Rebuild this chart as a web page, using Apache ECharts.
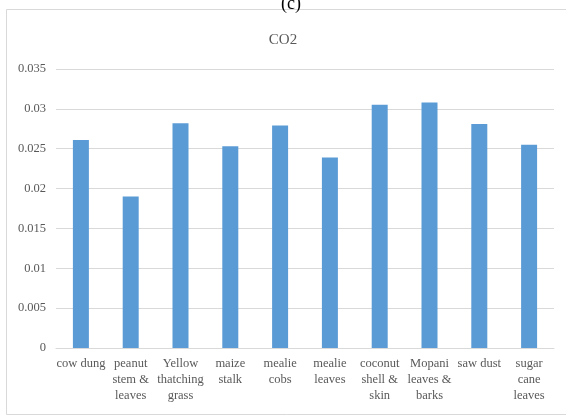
<!DOCTYPE html>
<html>
<head>
<meta charset="utf-8">
<script src="https://cdn.jsdelivr.net/npm/echarts@6/dist/echarts.min.js"></script>
<style>html,body{margin:0;padding:0;background:#fff;}#c{width:566px;height:420px;}</style>
</head>
<body>
<div id="c"></div>
<script>
const categories = ["cow dung", "peanut\nstem &\nleaves", "Yellow\nthatching\ngrass", "maize\nstalk", "mealie\ncobs", "mealie\nleaves", "coconut\nshell &\nskin", "Mopani\nleaves &\nbarks", "saw dust", "sugar\ncane\nleaves"];
const co2Values = [0.0261, 0.0190, 0.0282, 0.0253, 0.0279, 0.0239, 0.0305, 0.0308, 0.0281, 0.0255];
const yTicks = [0, 0.005, 0.01, 0.015, 0.02, 0.025, 0.03, 0.035];
const chartTitle = "CO2";
const panelLabel = "(c)";

const chart = echarts.init(document.getElementById('c'), null, {renderer: 'canvas'});
const serif = '"Liberation Serif", "DejaVu Serif", serif';
chart.setOption({
  animation: false,
  backgroundColor: '#ffffff',
  graphic: [{
    type: 'rect', shape: {x: 6.5, y: 9.5, width: 580, height: 405},
    style: {fill: 'none', stroke: '#d9d9d9', lineWidth: 1}, z: -1
  }],
  title: [{
    text: panelLabel, left: 276, top: -10,
    textStyle: {fontFamily: serif, fontSize: 18, fontWeight: 'normal', color: '#000'}
  }, {
    text: chartTitle, left: 'center', top: 28,
    textStyle: {fontFamily: serif, fontSize: 15, fontWeight: 'normal', color: '#595959'}
  }],
  grid: {left: 56, right: 12, top: 69, bottom: 72, containLabel: false},
  xAxis: {
    type: 'category', data: categories,
    axisLine: {lineStyle: {color: '#d9d9d9'}},
    axisTick: {show: false},
    axisLabel: {interval: 0, margin: 8, fontFamily: serif, fontSize: 12.5, lineHeight: 16, color: '#595959'}
  },
  yAxis: {
    type: 'value', min: yTicks[0], max: yTicks[yTicks.length - 1], interval: yTicks[1] - yTicks[0],
    axisLine: {show: false}, axisTick: {show: false},
    splitLine: {lineStyle: {color: '#d9d9d9'}},
    axisLabel: {margin: 10, fontFamily: serif, fontSize: 12.5, color: '#595959',
      formatter: v => String(+v.toFixed(3))}
  },
  series: [{
    type: 'bar', data: co2Values, barWidth: 16,
    itemStyle: {color: '#5b9bd5'}
  }]
});
</script>
</body>
</html>
